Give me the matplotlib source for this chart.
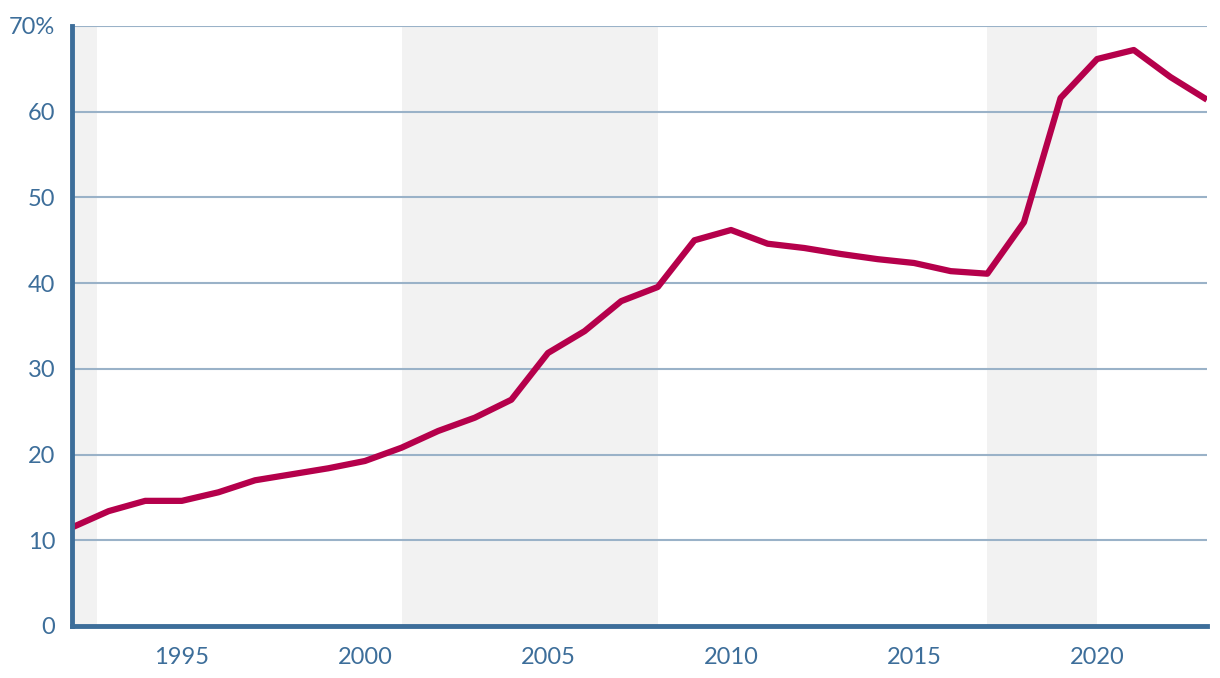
import matplotlib.pyplot as plt

years = list(range(1992, 2024))
share = [11.5, 13.4, 14.6, 14.6, 15.6, 17.0, 17.7, 18.4, 19.25, 20.8,
         22.75, 24.3, 26.4, 31.85, 34.4, 37.9, 39.55, 45.0, 46.2, 44.6,
         44.1, 43.4, 42.8, 42.35, 41.4, 41.1, 47.1, 61.6, 66.15, 67.2,
         64.05, 61.4]
shaded = [(1992, 1992.68), (2001, 2008), (2017, 2020)]
xticks = [1995, 2000, 2005, 2010, 2015, 2020]
yticks = [0, 10, 20, 30, 40, 50, 60, 70]
ylabels = ["0", "10", "20", "30", "40", "50", "60", "70%"]

blue = "#3d6e9a"
plt.rcParams['font.family'] = ['Lato', 'DejaVu Sans']

fig = plt.figure(figsize=(12.2, 6.78), dpi=100)
ax = fig.add_axes([72 / 1220, 1 - 626 / 678, (1207 - 72) / 1220, 600 / 678])

# shaded periods
for a, b in shaded:
    ax.axvspan(a, b, color="#f2f2f2", lw=0, zorder=0)

for y in yticks[1:]:
    ax.axhline(y, color="#9ab2c8", lw=1.5, zorder=1)

ax.plot(years, share, color="#b5004b", lw=4.5, solid_capstyle="butt", zorder=3)

ax.set_xlim(1992, 2023)
ax.set_ylim(0, 70)
ax.set_xticks(xticks)
ax.set_yticks(yticks)
ax.set_yticklabels(ylabels)
ax.tick_params(length=0, labelsize=17, colors=blue)
ax.tick_params(axis="x", pad=15)
ax.tick_params(axis="y", pad=12)

for s in ["top", "right"]:
    ax.spines[s].set_visible(False)
for s in ["left", "bottom"]:
    ax.spines[s].set_color(blue)
    ax.spines[s].set_linewidth(3.5)
    ax.spines[s].set_zorder(4)

fig.savefig("out.png", dpi=100)
